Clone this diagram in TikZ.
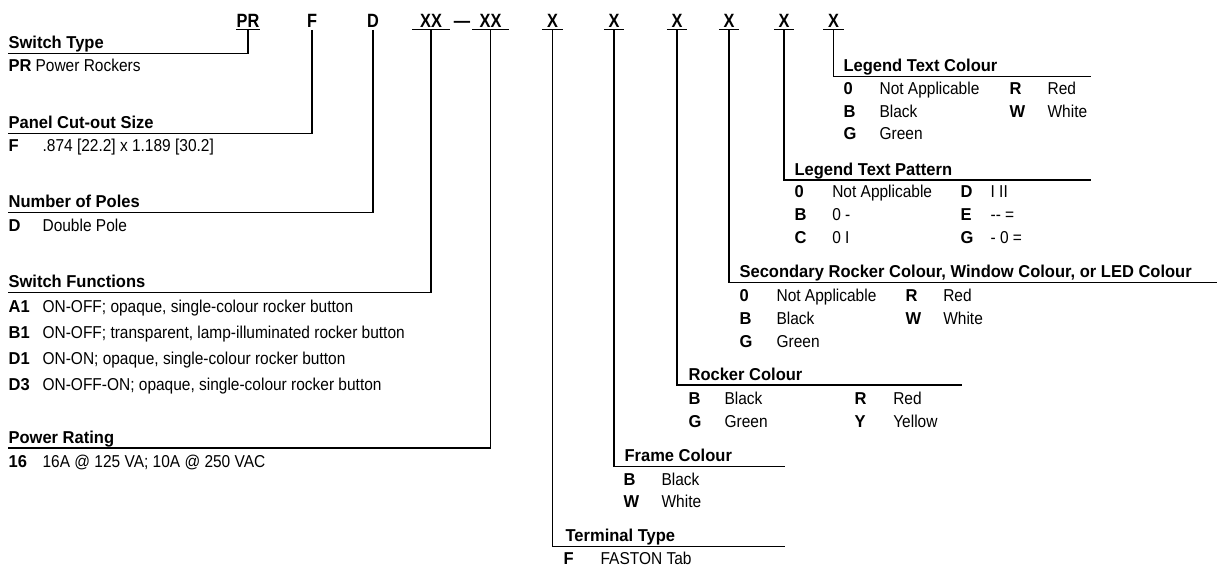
\documentclass[tikz,border=0pt]{standalone}
\usepackage{fontspec}
\setmainfont{Liberation Sans}[FakeStretch=0.9]
\newfontfamily\boldfont{Liberation Sans}[FakeStretch=0.96]
\newfontfamily\codefont{Liberation Sans}[FakeStretch=0.85]
\newcommand\txtsize{\fontsize{12.9}{15}\selectfont}
\newcommand\topsize{\fontsize{14.4}{17}\selectfont}

\begin{document}
\begin{tikzpicture}[x=0.75pt,y=-0.75pt,line width=0.9pt,
  hd/.style={anchor=base west,inner sep=0pt,font=\boldfont\bfseries\txtsize},
  cd/.style={anchor=base west,inner sep=0pt,font=\boldfont\bfseries\txtsize},
  ds/.style={anchor=base west,inner sep=0pt,font=\txtsize},
  top/.style={anchor=base,inner xsep=0pt,inner ysep=1.7pt,font=\codefont\bfseries\topsize}]
\useasboundingbox (0,0) rectangle (1218,569);

% part number
\node[top,minimum width=13.5pt] (cPR) at (248,27) {PR};
\node[top] (cF) at (312,27) {F};
\node[top] (cD) at (373,27) {D};
\node[top,minimum width=27pt] (cFn) at (431,27) {XX};
\node[top] (cDash) at (462,27) {—};
\node[top,minimum width=26.25pt] (cPw) at (490.5,27) {XX};
\node[top,minimum width=14.25pt] (cTm) at (552.5,27) {X};
\node[top,minimum width=14.25pt] (cFr) at (614,27) {X};
\node[top,minimum width=14.25pt] (cRk) at (677,27) {X};
\node[top,minimum width=14.25pt] (cSc) at (729,27) {X};
\node[top,minimum width=14.25pt] (cLp) at (784,27) {X};
\node[top,minimum width=14.25pt] (cLc) at (833.5,27) {X};
\draw (cPR.south west) -- (cPR.south east);
\draw (cFn.south west) -- (cFn.south east);
\draw (cPw.south west) -- (cPw.south east);
\draw (cTm.south west) -- (cTm.south east);
\draw (cFr.south west) -- (cFr.south east);
\draw (cRk.south west) -- (cRk.south east);
\draw (cSc.south west) -- (cSc.south east);
\draw (cLp.south west) -- (cLp.south east);
\draw (cLc.south west) -- (cLc.south east);

% switch type
\node[hd] (hType) at (8,48.3) {Switch Type};
\coordinate (lType) at (8,53.3);
\draw (cPR.south) |- (lType);
\node[cd] (kPR) at (8,71.8) {PR};
\node[ds] (tPR) at (35,71.8) {Power Rockers};

% panel cut-out
\node[hd] (hCut) at (8,128.3) {Panel Cut-out Size};
\coordinate (lCut) at (8,133.3);
\draw (cF.south) |- (lCut);
\node[cd] (kF) at (8,151.8) {F};
\node[ds] (tF) at (42,151.8) {.874 [22.2] x 1.189 [30.2]};

% poles
\node[hd] (hPole) at (8,207.7) {Number of Poles};
\coordinate (lPole) at (8,212.7);
\draw (cD.south) |- (lPole);
\node[cd] (kD) at (8,231.2) {D};
\node[ds] (tD) at (42,231.2) {Double Pole};

% functions
\node[hd] (hFn) at (8,287.7) {Switch Functions};
\coordinate (lFn) at (8,292.7);
\draw (cFn.south) |- (lFn);
\node[cd] (kA1) at (8,312) {A1};
\node[ds] (tA1) at (42,312) {ON-OFF; opaque, single-colour rocker button};
\node[cd] (kB1) at (8,338) {B1};
\node[ds] (tB1) at (42,338) {ON-OFF; transparent, lamp-illuminated rocker button};
\node[cd] (kD1) at (8,364) {D1};
\node[ds] (tD1) at (42,364) {ON-ON; opaque, single-colour rocker button};
\node[cd] (kD3) at (8,390) {D3};
\node[ds] (tD3) at (42,390) {ON-OFF-ON; opaque, single-colour rocker button};

% power rating
\node[hd] (hPw) at (8,443) {Power Rating};
\coordinate (lPw) at (8,448);
\draw (cPw.south) |- (lPw);
\node[cd] (k16) at (8,467) {16};
\node[ds] (t16) at (42,467) {16A @ 125 VA; 10A @ 250 VAC};

% terminal type
\node[hd] (hTm) at (565,541.7) {Terminal Type};
\coordinate (lTm) at (785,546.7);
\draw (cTm.south) |- (lTm);
\node[cd] (kTmF) at (563,564) {F};
\node[ds] (tTmF) at (600,564) {FASTON Tab};

% frame colour
\node[hd] (hFr) at (624,461.7) {Frame Colour};
\coordinate (lFr) at (785,466.7);
\draw (cFr.south) |- (lFr);
\node[cd] (kFrB) at (623,485.3) {B};
\node[ds] (tFrB) at (661,485.3) {Black};
\node[cd] (kFrW) at (623,507) {W};
\node[ds] (tFrW) at (661,507) {White};

% rocker colour
\node[hd] (hRk) at (688,380) {Rocker Colour};
\coordinate (lRk) at (962,385);
\draw (cRk.south) |- (lRk);
\node[cd] (kRkB) at (688,404) {B};
\node[ds] (tRkB) at (724,404) {Black};
\node[cd] (kRkR) at (854,404) {R};
\node[ds] (tRkR) at (892.7,404) {Red};
\node[cd] (kRkG) at (688,427.5) {G};
\node[ds] (tRkG) at (724,427.5) {Green};
\node[cd] (kRkY) at (854,427.5) {Y};
\node[ds] (tRkY) at (892.7,427.5) {Yellow};

% secondary colour
\node[hd] (hSc) at (739,277.7) {Secondary Rocker Colour, Window Colour, or LED Colour};
\coordinate (lSc) at (1217,282.7);
\draw (cSc.south) |- (lSc);
\node[cd] (kSc0) at (739,301) {0};
\node[ds] (tSc0) at (776,301) {Not Applicable};
\node[cd] (kScR) at (905,301) {R};
\node[ds] (tScR) at (942.7,301) {Red};
\node[cd] (kScB) at (739,324) {B};
\node[ds] (tScB) at (776,324) {Black};
\node[cd] (kScW) at (905,324) {W};
\node[ds] (tScW) at (942.7,324) {White};
\node[cd] (kScG) at (739,347) {G};
\node[ds] (tScG) at (776,347) {Green};

% legend pattern
\node[hd] (hLp) at (794,175) {Legend Text Pattern};
\coordinate (lLp) at (1091,180);
\draw (cLp.south) |- (lLp);
\node[cd] (kLp0) at (794,197.7) {0};
\node[ds] (tLp0) at (831.7,197.7) {Not Applicable};
\node[cd] (kLpD) at (960,197.7) {D};
\node[ds] (tLpD) at (990,197.7) {I II};
\node[cd] (kLpB) at (794,220.5) {B};
\node[ds] (tLpB) at (831.7,220.5) {0 -};
\node[cd] (kLpE) at (960,220.5) {E};
\node[ds] (tLpE) at (990,220.5) {-{}- =};
\node[cd] (kLpC) at (794,243.5) {C};
\node[ds] (tLpC) at (831.7,243.5) {0 I};
\node[cd] (kLpG) at (960,243.5) {G};
\node[ds] (tLpG) at (990,243.5) {- 0 =};

% legend colour
\node[hd] (hLc) at (843,71.7) {Legend Text Colour};
\coordinate (lLc) at (1091,76.7);
\draw (cLc.south) |- (lLc);
\node[cd] (kLc0) at (843,94.3) {0};
\node[ds] (tLc0) at (879,94.3) {Not Applicable};
\node[cd] (kLcR) at (1009,94.3) {R};
\node[ds] (tLcR) at (1047,94.3) {Red};
\node[cd] (kLcB) at (843,117) {B};
\node[ds] (tLcB) at (879,117) {Black};
\node[cd] (kLcW) at (1009,117) {W};
\node[ds] (tLcW) at (1047,117) {White};
\node[cd] (kLcG) at (843,139.5) {G};
\node[ds] (tLcG) at (879,139.5) {Green};

\end{tikzpicture}
\end{document}
